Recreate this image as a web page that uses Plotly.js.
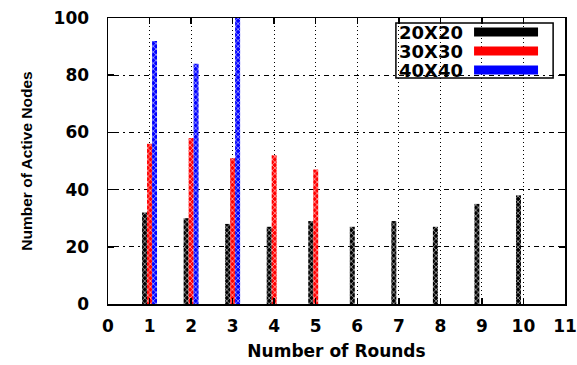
<!DOCTYPE html>
<html>
<head>
<meta charset="utf-8">
<script src="https://cdn.plot.ly/plotly-3.0.1.min.js"></script>
<style>html,body{margin:0;padding:0;background:#fff;}#chart{width:577px;height:365px;}</style>
</head>
<body>
<div id="chart"></div>
<script>
var rounds = [1, 2, 3, 4, 5, 6, 7, 8, 9, 10];
var seriesNames = ["20X20", "30X30", "40X40"];
var nodes20 = [32, 30, 28, 27, 29, 27, 29, 27, 35, 38];
var nodes30 = [56, 58, 51, 52, 47, null, null, null, null, null];
var nodes40 = [92, 84, 100, null, null, null, null, null, null, null];
var colors = ["#000000", "#ff0000", "#0000ff"];
var xTicks = [0, 1, 2, 3, 4, 5, 6, 7, 8, 9, 10, 11];
var yTicks = [0, 20, 40, 60, 80, 100];

var values = [nodes20, nodes30, nodes40];
var traces = values.map(function (v, i) {
  return {
    type: "bar",
    x: rounds,
    y: v,
    name: seriesNames[i],
    marker: {
      color: colors[i],
      line: {width: 0},
      pattern: {shape: "x", fgcolor: "#ffffff", bgcolor: colors[i], size: 4, solidity: 0.25}
    },
    showlegend: false
  };
});

var font = "DejaVu Sans, sans-serif";
var titleFont = "Liberation Sans, Arial, sans-serif";
var shapes = [];
var annotations = [];
seriesNames.forEach(function (n, i) {
  var yc = 0.951 - i * 0.0665;
  annotations.push({
    xref: "paper", yref: "paper", x: 0.633, y: yc, xanchor: "left", yanchor: "middle",
    text: "<b>" + n + "</b>", showarrow: false, font: {family: font, size: 18, color: "#000"}
  });
  shapes.push({
    type: "rect", xref: "paper", yref: "paper",
    x0: 0.801, x1: 0.941, y0: yc - 0.0157, y1: yc + 0.0157,
    fillcolor: colors[i], line: {width: 0}
  });
});
shapes.push({
  type: "rect", xref: "paper", yref: "paper",
  x0: 0.630, x1: 0.974, y0: 0.790, y1: 0.9825,
  fillcolor: "rgba(0,0,0,0)", line: {color: "#000", width: 1.5}
});

var layout = {
  width: 577, height: 365,
  margin: {l: 108, r: 12, t: 18, b: 61},
  paper_bgcolor: "#fff", plot_bgcolor: "#fff",
  barmode: "group", bargap: 0.64, bargroupgap: 0,
  font: {family: font, color: "#000"},
  xaxis: {
    range: [0, 11], tickvals: xTicks, ticktext: xTicks.map(String),
    ticks: "inside", ticklen: 6, tickwidth: 1.5, tickcolor: "#000",
    showline: true, linecolor: "#000", linewidth: 1.5, mirror: "ticks",
    showgrid: true, gridcolor: "#000", gridwidth: 1, griddash: "1px,3px",
    zeroline: false,
    tickfont: {family: font, size: 17, color: "#000", weight: "bold"},
    ticklabelstandoff: 6,
    title: {text: "<b>Number of Rounds</b>", font: {family: font, size: 17, color: "#000"}, standoff: 10}
  },
  yaxis: {
    range: [0, 100], tickvals: yTicks, ticktext: yTicks.map(String),
    ticks: "inside", ticklen: 6, tickwidth: 1.5, tickcolor: "#000",
    showline: true, linecolor: "#000", linewidth: 1.5, mirror: "ticks",
    showgrid: true, gridcolor: "#000", gridwidth: 1, griddash: "2px,4px,5px,4px",
    zeroline: false,
    tickfont: {family: font, size: 17, color: "#000", weight: "bold"},
    ticklabelstandoff: 14,
    title: {text: "<b>Number of Active Nodes</b>", font: {family: titleFont, size: 15.5, color: "#000"}, standoff: 17}
  },
  shapes: shapes,
  annotations: annotations
};

Plotly.newPlot("chart", traces, layout, {displayModeBar: false, staticPlot: true});
</script>
</body>
</html>
